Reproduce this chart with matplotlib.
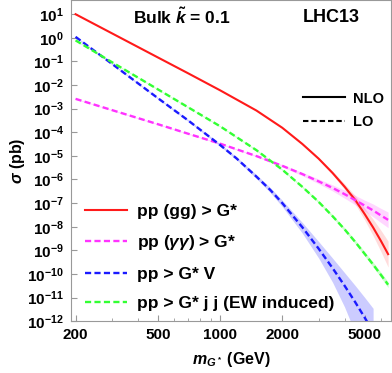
import matplotlib
matplotlib.use('Agg')

import numpy as np
import matplotlib.pyplot as plt
from matplotlib.lines import Line2D

plt.rcParams['font.family'] = ['Liberation Sans', 'DejaVu Sans']
plt.rcParams['font.weight'] = 'bold'
plt.rcParams['axes.labelweight'] = 'bold'
plt.rcParams['mathtext.fontset'] = 'custom'
plt.rcParams['mathtext.rm'] = 'Liberation Sans:bold'
plt.rcParams['mathtext.it'] = 'Liberation Sans:bold:italic'
plt.rcParams['mathtext.bf'] = 'Liberation Sans:bold'

# masses (GeV)
mass = [200, 300, 500, 700, 1000, 1500, 2000, 2500, 3000, 3500, 4000, 4500, 5000, 5500, 6000, 6500]
mass_v = [200, 300, 500, 700, 1000, 1200, 1500, 1750, 2000, 2500, 3000, 3500, 4000, 4500, 5000, 5500]

# cross sections (pb)
sig_gg = [10.0, 1.55, 0.148, 0.0316, 6.0e-3, 8.3e-4, 1.55e-4, 3.2e-5, 7.6e-6, 1.9e-6,
          5.0e-7, 1.38e-7, 3.5e-8, 9.3e-9, 2.5e-9, 6.9e-10]
sig_aa = [2.6e-3, 8.7e-4, 2.2e-4, 8.7e-5, 3.3e-5, 9.8e-6, 3.8e-6, 1.7e-6, 8.3e-7, 4.4e-7,
          2.4e-7, 1.35e-7, 7.9e-8, 4.9e-8, 3.0e-8, 1.95e-8]
sig_jj = [0.78, 0.093, 6.6e-3, 1.15e-3, 1.8e-4, 1.74e-5, 2.6e-6, 4.9e-7, 1.12e-7, 2.8e-8,
          7.8e-9, 2.3e-9, 7.2e-10, 2.5e-10, 9.1e-11, 3.5e-11]
sig_v = [1.1, 0.079, 2.8e-3, 3.2e-4, 2.9e-5, 7.9e-6, 1.32e-6, 3.6e-7, 1.0e-7, 9.5e-9,
         1.17e-9, 1.78e-10, 3.2e-11, 6.5e-12, 1.45e-12, 3.5e-13]

# uncertainty bands, in decades (down, up)
unc_gg = [0.01, 0.01, 0.01, 0.01, 0.01, 0.01, 0.02, 0.03, 0.05, 0.08, 0.12, 0.18, 0.25, 0.35, 0.45, 0.55]
unc_aa = [0.02, 0.02, 0.02, 0.02, 0.02, 0.03, 0.05, 0.07, 0.1, 0.13, 0.17, 0.2, 0.23, 0.27, 0.3, 0.33]
unc_jj = [0.02, 0.02, 0.02, 0.02, 0.02, 0.03, 0.03, 0.04, 0.05, 0.06, 0.07, 0.08, 0.09, 0.1, 0.11, 0.12]
unc_v_lo = [0.03, 0.03, 0.03, 0.04, 0.05, 0.06, 0.08, 0.11, 0.15, 0.25, 0.4, 0.6, 0.9, 1.3, 1.8, 2.3]
unc_v_hi = [0.03, 0.03, 0.03, 0.04, 0.05, 0.06, 0.08, 0.1, 0.12, 0.2, 0.3, 0.42, 0.55, 0.7, 0.85, 1.0]

labels = ['pp (gg) > G*', r'pp ($\gamma\gamma$) > G*', 'pp > G* V', 'pp > G* j j (EW induced)']
xticks = [200, 500, 1000, 2000, 5000]
yexp = list(range(-12, 2))

RED, MAG, BLUE, GREEN = '#ff1a1a', '#ff33ff', '#1a1aff', '#33ff33'
dash = (0, (2.6, 1.4))

fig = plt.figure(figsize=(3.92, 3.73), dpi=100)
ax = fig.add_axes([0.181, 0.139, 0.816, 0.861])


def band(x, y, lo, hi, c, a):
    y = np.array(y)
    ax.fill_between(x, y / 10 ** np.array(lo), y * 10 ** np.array(hi), color=c, alpha=a, lw=0)


band(mass, sig_gg, unc_gg, unc_gg, RED, 0.15)
band(mass, sig_aa, unc_aa, unc_aa, MAG, 0.2)
band(mass_v, sig_v, unc_v_lo, unc_v_hi, BLUE, 0.22)
band(mass, sig_jj, unc_jj, unc_jj, GREEN, 0.25)

h1, = ax.plot(mass, sig_gg, color=RED, lw=1.5)
h2, = ax.plot(mass, sig_aa, color=MAG, lw=1.7, linestyle=dash)
h3, = ax.plot(mass_v, sig_v, color=BLUE, lw=1.7, linestyle=dash)
h4, = ax.plot(mass, sig_jj, color=GREEN, lw=1.7, linestyle=dash)

ax.set_xscale('log')
ax.set_yscale('log')
ax.set_xlim(190, 6700)
ax.set_ylim(1e-12, 40)

ax.set_xticks(xticks)
ax.set_xticklabels([str(t) for t in xticks])
ax.set_xticks([300, 400, 600, 700, 800, 900, 3000, 4000, 6000], minor=True)
ax.set_xticklabels([], minor=True)
ax.set_yticks([10.0 ** e for e in yexp])
ax.set_yticklabels([r'$\mathbf{10^{%d}}$' % e for e in yexp])
ax.yaxis.set_minor_locator(matplotlib.ticker.NullLocator())
ax.tick_params(which='both', direction='in', color='#999999', labelsize=11, pad=5)
ax.tick_params(which='major', length=4)
ax.tick_params(which='minor', length=2)
for s in ax.spines.values():
    s.set_color('#999999')

ax.set_ylabel(r'$\sigma$ (pb)', fontsize=11.5, labelpad=0)
ax.set_xlabel(r'$m_{G^*}$ (GeV)', fontsize=11.5, labelpad=6)

ax.text(0.194, 0.947, r'Bulk $\tilde{k}$ = 0.1', transform=ax.transAxes, fontsize=12.5, va='center')
ax.text(0.725, 0.947, 'LHC13', transform=ax.transAxes, fontsize=13, va='center')

leg = ax.legend([h1, h2, h3, h4], labels, loc='lower left', bbox_to_anchor=(0.044, 0.031),
                frameon=False, fontsize=12.5, handlelength=2.4, handletextpad=0.57,
                labelspacing=0.82, borderpad=0, borderaxespad=0)

styles = [Line2D([], [], color='black', lw=1.5), Line2D([], [], color='black', lw=1.5, linestyle=dash)]
leg2 = ax.legend(styles, ['NLO', 'LO'], loc='upper left', bbox_to_anchor=(0.725, 0.715),
                 frameon=False, fontsize=10.5, handlelength=2.9, handletextpad=0.55,
                 labelspacing=0.65, borderpad=0, borderaxespad=0)
ax.add_artist(leg)

fig.savefig('out.png', dpi=100)
